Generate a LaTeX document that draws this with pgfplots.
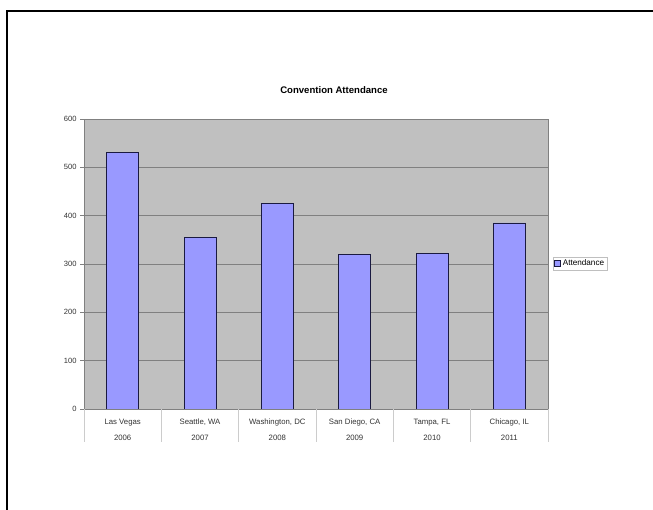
\documentclass[border=0pt]{standalone}
\usepackage{pgfplots}
\pgfplotsset{compat=1.18}
\usepackage{fontspec}
\setmainfont{Liberation Sans}
\definecolor{plotbg}{HTML}{C0C0C0}
\definecolor{barfill}{HTML}{9999FF}
\definecolor{gridc}{HTML}{808080}
\definecolor{txt}{HTML}{333333}
\definecolor{baredge}{HTML}{1A1A40}
\begin{document}
\begin{tikzpicture}[x=1bp,y=1bp]
\path[use as bounding box] (0,0) rectangle (653,510);
\draw[line width=1.5bp] (7,0) -- (7,499) -- (653,499);
\begin{axis}[
  at={(84bp,101bp)}, anchor=south west,
  scale only axis, width=464bp, height=290bp,
  xmin=-0.5, xmax=5.5, ymin=0, ymax=600,
  ytick={0,100,...,600},
  xtick={0,...,5},
  xticklabels={{Las Vegas\\2006},{Seattle, WA\\2007},{Washington, DC\\2008},{San Diego, CA\\2009},{Tampa, FL\\2010},{Chicago, IL\\2011}},
  xticklabel style={align=center, font=\fontsize{7.8}{16}\selectfont, text=txt, yshift=-2.5bp},
  yticklabel style={font=\fontsize{7.6}{8}\selectfont, text=txt},
  /pgf/number format/assume math mode=true,
  xtick style={draw=none},
  ytick pos=left, xtick pos=bottom,
  ytick style={draw=gridc, line width=0.6bp},
  tick align=outside, major tick length=4bp,
  extra x ticks={-0.5,0.5,1.5,2.5,3.5,4.5,5.5},
  extra x tick labels={},
  extra x tick style={xtick style={draw=gray!40, line width=0.6bp}, major tick length=33bp, tick align=outside},
  axis background/.style={fill=plotbg},
  axis line style={draw=gridc, line width=0.8bp},
  ymajorgrids, major grid style={draw=gridc, line width=0.8bp},
  ybar, bar width=32bp,
  legend style={at={(1.0108,0.5017)}, anchor=west, draw=gray!50, font=\fontsize{8.2}{9}\selectfont, inner sep=1bp, outer sep=0pt, text=black},
  legend image code/.code={\draw[#1] (-1bp,-3bp) rectangle (5bp,3bp);},
]
\addplot[fill=barfill, draw=baredge, line width=0.8bp] coordinates {(0,530) (1,354) (2,426) (3,319) (4,322) (5,385)};
\addlegendentry{Attendance}
\end{axis}
\node[font=\bfseries\fontsize{9.6}{11}\selectfont] at (334,420) {Convention Attendance};
\end{tikzpicture}
\end{document}
